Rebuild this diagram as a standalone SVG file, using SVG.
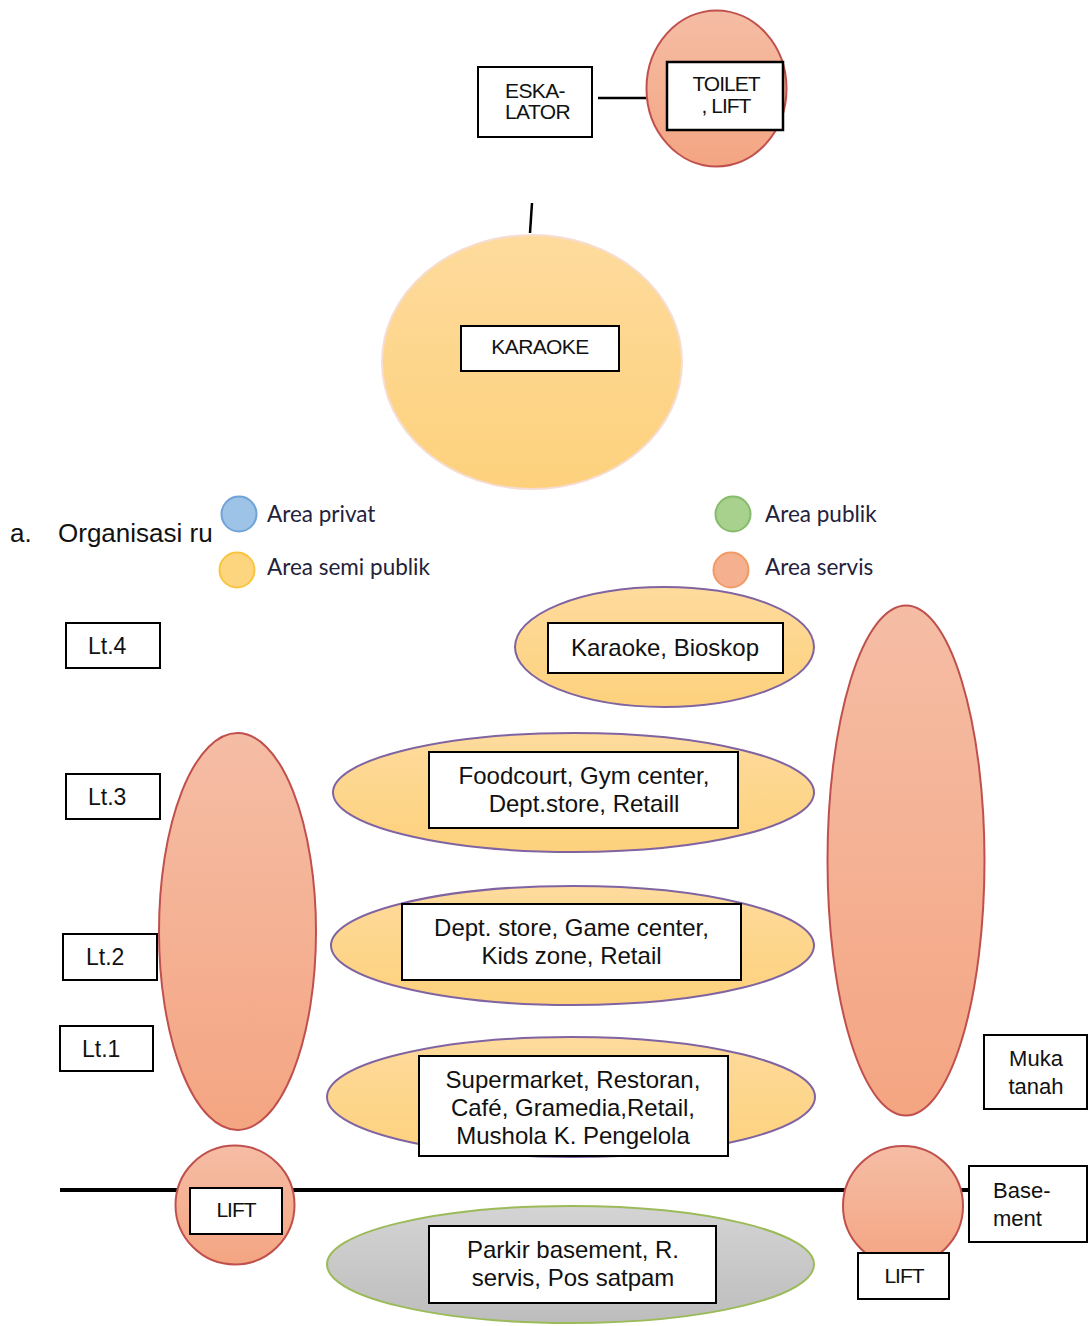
<svg xmlns="http://www.w3.org/2000/svg" width="1089" height="1326" viewBox="0 0 1089 1326">
  <defs>
    <linearGradient id="gServis" x1="0" y1="0" x2="0" y2="1">
      <stop offset="0" stop-color="#f5bda5"/>
      <stop offset="1" stop-color="#f4a582"/>
    </linearGradient>
    <linearGradient id="gSemi" x1="0" y1="0" x2="0" y2="1">
      <stop offset="0" stop-color="#fedb9d"/>
      <stop offset="1" stop-color="#fdd17c"/>
    </linearGradient>
    <linearGradient id="gGray" x1="0" y1="0" x2="0" y2="1">
      <stop offset="0" stop-color="#d4d4d4"/>
      <stop offset="1" stop-color="#bdbdbd"/>
    </linearGradient>
    <clipPath id="clipSuper">
      <rect x="419" y="1056" width="309" height="100"/>
    </clipPath>
  </defs>
  <style>
    .box { fill: #ffffff; stroke: #000000; stroke-width: 2; }
    .boxb { fill: #ffffff; stroke: #000000; stroke-width: 2.5; }
    .servis { fill: url(#gServis); stroke: #c0504d; stroke-width: 2; }
    .semi { fill: url(#gSemi); stroke: #8064a2; stroke-width: 2; }
    .semi-soft { fill: url(#gSemi); stroke: #f6ddd3; stroke-width: 2; }
    .basement { fill: url(#gGray); stroke: #9bbb59; stroke-width: 2; }
    .conn { stroke: #000000; stroke-width: 2.5; fill: none; }
    .ground { stroke: #000000; stroke-width: 4; fill: none; }
    .t { font-family: "Liberation Sans", Arial, sans-serif; fill: #111111; }
    .t24 { font-size: 24px; }
    .t22 { font-size: 22px; }
    .t23 { font-size: 23px; }
    .t21 { font-size: 21px; letter-spacing: -0.6px; }
    .tn { font-size: 21px; letter-spacing: -1px; }
    .mid { text-anchor: middle; }
    .leg { font-family: Lato, "Open Sans", sans-serif; font-size: 22.5px; fill: #24213a; }
  </style>

  <!-- connectors -->
  <g id="connectors">
    <line class="conn" x1="598" y1="98" x2="647" y2="98"/>
    <line class="conn" x1="532" y1="203" x2="530" y2="233"/>
    <line class="ground" x1="60" y1="1190" x2="970" y2="1190"/>
  </g>

  <!-- upper floor detail -->
  <g id="eskalator">
    <rect class="box" x="478" y="67" width="114" height="70"/>
    <text class="t t21 mid" x="535" y="98">ESKA-</text>
    <text class="t t21 mid" x="537.5" y="119">LATOR</text>
  </g>
  <g id="toilet-lift">
    <ellipse class="servis" cx="716.5" cy="88.5" rx="70" ry="78"/>
    <rect class="boxb" x="667" y="62" width="116" height="68"/>
    <text class="t tn mid" x="726" y="91">TOILET</text>
    <text class="t tn mid" x="726" y="113">, LIFT</text>
  </g>
  <g id="karaoke">
    <ellipse class="semi-soft" cx="532" cy="362" rx="150" ry="127"/>
    <rect class="box" x="461" y="326" width="158" height="45"/>
    <text class="t t21 mid" x="540" y="354" letter-spacing="-0.2">KARAOKE</text>
  </g>

  <!-- caption and legend -->
  <g id="caption">
    <text class="t" x="10" y="542" font-size="26">a.</text>
    <text class="t" x="58" y="542" font-size="26">Organisasi ru</text>
  </g>
  <g id="legend">
    <circle cx="239" cy="514" r="17.5" fill="#9dc3e6" stroke="#70a3d8" stroke-width="2"/>
    <text class="leg" x="267" y="522">Area privat</text>
    <circle cx="237" cy="570" r="17.5" fill="#fed57f" stroke="#f9c540" stroke-width="2"/>
    <text class="leg" x="267" y="575">Area semi publik</text>
    <circle cx="733" cy="514" r="17.5" fill="#a9d18e" stroke="#86bb6b" stroke-width="2"/>
    <text class="leg" x="765" y="522">Area publik</text>
    <circle cx="731" cy="570" r="17.5" fill="#f4b08f" stroke="#f29a65" stroke-width="2"/>
    <text class="leg" x="765" y="575">Area servis</text>
  </g>

  <!-- floor labels -->
  <g id="lt4">
    <rect class="box" x="66" y="623" width="94" height="45"/>
    <text class="t t23" x="88" y="654">Lt.4</text>
  </g>
  <g id="lt3">
    <rect class="box" x="66" y="774" width="94" height="45"/>
    <text class="t t23" x="88" y="805">Lt.3</text>
  </g>
  <g id="lt2">
    <rect class="box" x="63" y="934" width="94" height="46"/>
    <text class="t t23" x="86" y="965">Lt.2</text>
  </g>
  <g id="lt1">
    <rect class="box" x="60" y="1026" width="93" height="45"/>
    <text class="t t23" x="82" y="1057">Lt.1</text>
  </g>

  <!-- vertical service cores -->
  <g id="servis-kiri">
    <ellipse class="servis" cx="237.5" cy="931.5" rx="78.5" ry="198.5"/>
  </g>
  <g id="servis-kanan">
    <ellipse class="servis" cx="906" cy="860.5" rx="78.5" ry="255"/>
  </g>

  <!-- floors -->
  <g id="lantai4">
    <ellipse class="semi" cx="664.5" cy="647" rx="149.5" ry="60"/>
    <rect class="box" x="548" y="623" width="235" height="50"/>
    <text class="t t24 mid" x="665" y="656">Karaoke, Bioskop</text>
  </g>
  <g id="lantai3">
    <ellipse class="semi" cx="573.5" cy="792.5" rx="240.5" ry="59.5"/>
    <rect class="box" x="429" y="752" width="309" height="76"/>
    <text class="t t24 mid" x="584" y="784">Foodcourt, Gym center,</text>
    <text class="t t24 mid" x="584" y="812">Dept.store, Retaill</text>
  </g>
  <g id="lantai2">
    <ellipse class="semi" cx="572.5" cy="945.5" rx="241.5" ry="59.5"/>
    <rect class="box" x="402" y="904" width="339" height="76"/>
    <text class="t t24 mid" x="571.5" y="936">Dept. store, Game center,</text>
    <text class="t t24 mid" x="571.5" y="964">Kids zone, Retail</text>
  </g>
  <g id="lantai1">
    <ellipse class="semi" cx="571" cy="1097" rx="244" ry="60"/>
    <rect class="box" x="419" y="1056" width="309" height="100"/>
    <g clip-path="url(#clipSuper)">
      <text class="t t24 mid" x="573" y="1088">Supermarket, Restoran,</text>
      <text class="t t24 mid" x="573" y="1116">Café, Gramedia,Retail,</text>
      <text class="t t24 mid" x="573" y="1144">Mushola K. Pengelola</text>
    </g>
    <rect x="419" y="1056" width="309" height="100" fill="none" stroke="#000000" stroke-width="2"/>
  </g>
  <g id="muka-tanah">
    <rect class="box" x="984" y="1035" width="103" height="74"/>
    <text class="t t22 mid" x="1036" y="1066">Muka</text>
    <text class="t t22 mid" x="1036" y="1094">tanah</text>
  </g>

  <!-- basement -->
  <g id="lift-kiri">
    <circle class="servis" cx="235" cy="1205" r="59.5"/>
    <rect class="box" x="190" y="1188" width="92" height="46"/>
    <text class="t tn mid" x="236" y="1217">LIFT</text>
  </g>
  <g id="lift-kanan">
    <circle class="servis" cx="903" cy="1206" r="60"/>
    <rect class="box" x="858" y="1253" width="91" height="46"/>
    <text class="t tn mid" x="904" y="1283">LIFT</text>
  </g>
  <g id="basement-label">
    <rect class="box" x="969" y="1166" width="118" height="76"/>
    <text class="t t22" x="993" y="1198">Base-</text>
    <text class="t t22" x="993" y="1226">ment</text>
  </g>
  <g id="parkir">
    <ellipse class="basement" cx="570.5" cy="1264.5" rx="243.5" ry="58.5"/>
    <rect class="box" x="429" y="1226" width="287" height="77"/>
    <text class="t t24 mid" x="573" y="1258">Parkir basement, R.</text>
    <text class="t t24 mid" x="573" y="1286">servis, Pos satpam</text>
  </g>
</svg>
